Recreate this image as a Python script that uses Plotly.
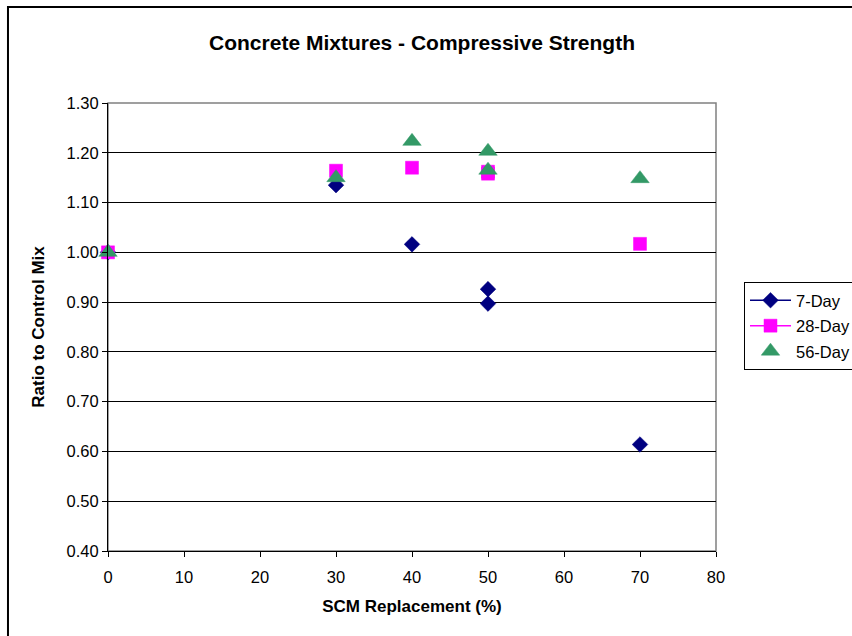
import plotly.graph_objects as go

# SCM replacement level (%) and strength ratio to the control mix
pct_7 = [0, 30, 40, 50, 50, 70]
day7 = [1.000, 1.135, 1.016, 0.926, 0.897, 0.614]

pct_28 = [0, 30, 40, 50, 50, 70]
day28 = [1.000, 1.164, 1.170, 1.162, 1.158, 1.017]

pct_56 = [0, 30, 40, 50, 50, 70]
day56 = [1.000, 1.150, 1.223, 1.203, 1.165, 1.148]

x_ticks = [0, 10, 20, 30, 40, 50, 60, 70, 80]
y_ticks = [0.40, 0.50, 0.60, 0.70, 0.80, 0.90, 1.00, 1.10, 1.20, 1.30]

FONT = "Liberation Sans, Arial, sans-serif"


def unjoined(xs, ys):
    """Separate each point with a gap so the line style only shows in the legend."""
    gx, gy = [], []
    for a, b in zip(xs, ys):
        gx += [a, None]
        gy += [b, None]
    return gx, gy


fig = go.Figure()

x7, y7 = unjoined(pct_7, day7)
fig.add_trace(go.Scatter(
    x=x7, y=y7, name="7-Day", mode="lines+markers", connectgaps=False,
    line=dict(color="#000080", width=1.5),
    marker=dict(symbol="diamond", size=12, color="#000080",
                line=dict(color="#000080", width=0.5)),
    cliponaxis=False, legendgroup="a",
))

x28, y28 = unjoined(pct_28, day28)
fig.add_trace(go.Scatter(
    x=x28, y=y28, name="28-Day", mode="lines+markers", connectgaps=False,
    line=dict(color="#FF00FF", width=1.5),
    marker=dict(symbol="square", size=13, color="#FF00FF",
                line=dict(color="#FF00FF", width=0.5)),
    cliponaxis=False, legendgroup="b",
))

fig.add_trace(go.Scatter(
    x=pct_56, y=day56, name="56-Day", mode="markers",
    marker=dict(symbol="triangle-up", size=16, color="#339966",
                line=dict(color="#339966", width=0.5)),
    cliponaxis=False, legendgroup="c",
))

# plot-area frame and outer chart frame
fig.add_shape(type="rect", xref="paper", yref="paper", x0=0, y0=0, x1=1, y1=1,
              line=dict(color="#808080", width=1.5), layer="below")
fig.add_shape(type="rect", xref="paper", yref="paper",
              x0=-0.1645, y0=-0.4, x1=1.5, y1=1.2143,
              line=dict(color="black", width=2), layer="below")

fig.update_layout(
    width=852, height=636,
    margin=dict(l=108, r=136, t=103, b=85, autoexpand=False),
    paper_bgcolor="white", plot_bgcolor="white",
    font=dict(family=FONT, size=16, color="black"),
    title=dict(text="<b>Concrete Mixtures - Compressive Strength</b>",
               x=422 / 852, xanchor="center", xref="container",
               y=1 - 43 / 636, yanchor="middle", yref="container",
               font=dict(family=FONT, size=21, color="black")),
    showlegend=True,
    legend=dict(x=(744 - 108) / 608, y=(551 - 282) / 448,
                xanchor="left", yanchor="top",
                bgcolor="white", bordercolor="black", borderwidth=1,
                font=dict(family=FONT, size=16.5, color="black"),
                tracegroupgap=1, itemwidth=41),
)

fig.update_xaxes(
    range=[0, 80], tickvals=x_ticks, ticktext=[str(v) for v in x_ticks],
    showgrid=False, zeroline=False,
    showline=True, linecolor="black", linewidth=1,
    ticks="outside", ticklen=5, tickcolor="black",
    ticklabelstandoff=6,
    tickfont=dict(family=FONT, size=16.5),
    title=dict(text="<b>SCM Replacement (%)</b>", standoff=15,
               font=dict(family=FONT, size=17)),
)

fig.update_yaxes(
    range=[0.40, 1.30], tickvals=y_ticks, ticktext=[f"{v:.2f}" for v in y_ticks],
    showgrid=True, gridcolor="black", gridwidth=1, zeroline=False,
    showline=True, linecolor="black", linewidth=1,
    ticks="outside", ticklen=5, tickcolor="black",
    tickfont=dict(family=FONT, size=16.5),
    title=dict(text="<b>Ratio to Control Mix</b>", standoff=17,
               font=dict(family=FONT, size=17)),
)

fig.write_html("out.html")
